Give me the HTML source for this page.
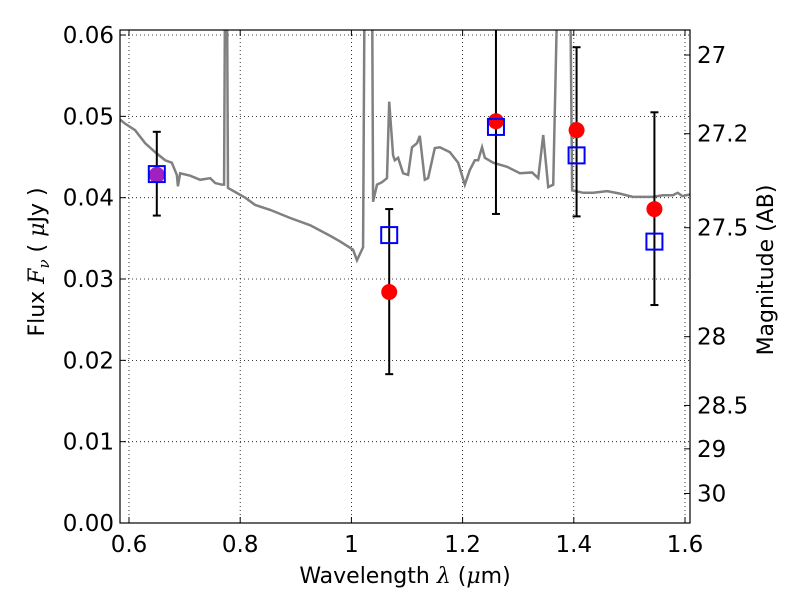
<!DOCTYPE html>
<html><head><meta charset="utf-8"><style>
body{margin:0;background:#fff}
svg{display:block;font-family:"DejaVu Sans","Liberation Sans",sans-serif}
</style></head><body>
<svg id="c" width="800" height="600"></svg>
<script>
const xTicks=[0.6,0.8,1.0,1.2,1.4,1.6];
const xTickLabels=["0.6","0.8","1","1.2","1.4","1.6"];
const yTicks=[0,0.01,0.02,0.03,0.04,0.05,0.06];
const yTickLabels=["0.00","0.01","0.02","0.03","0.04","0.05","0.06"];
const magTicks=[27,27.2,27.5,28,28.5,29,30];
const magTickLabels=["27","27.2","27.5","28","28.5","29","30"];
const specWave=[0.584,0.593,0.611,0.629,0.647,0.665,0.677,0.686,0.688,0.692,0.710,0.728,0.746,0.755,0.767,0.771,0.773,0.776,0.778,0.791,0.809,0.827,0.854,0.890,0.926,0.962,0.980,1.003,1.010,1.021,1.024,1.037,1.039,1.046,1.055,1.064,1.068,1.075,1.078,1.084,1.093,1.102,1.109,1.118,1.123,1.132,1.138,1.150,1.159,1.177,1.192,1.204,1.213,1.222,1.228,1.235,1.240,1.255,1.280,1.303,1.325,1.336,1.345,1.354,1.363,1.372,1.393,1.397,1.417,1.435,1.460,1.483,1.506,1.542,1.560,1.578,1.587,1.595,1.609];
const specFlux=[.0496,.0491,.0483,.0467,.0456,.0446,.0443,.0428,.0414,.0430,.0427,.0422,.0424,.0418,.0416,.0416,.07,.07,.0412,.0407,.0400,.0391,.0385,.0375,.0366,.0353,.0346,.0336,.0323,.0339,.07,.07,.0395,.0416,.0419,.0424,.0518,.0452,.0446,.0449,.0430,.0428,.0462,.0467,.0476,.0422,.0424,.0461,.0462,.0456,.0443,.0416,.0434,.0446,.0446,.0462,.0449,.0443,.0438,.0430,.0431,.0424,.0477,.0413,.0416,.07,.07,.0409,.0406,.0406,.0408,.0405,.0401,.0401,.0403,.0403,.0406,.0402,.0404];
const obsWave=[0.65,1.068,1.26,1.405,1.545];
const obsFlux=[0.0428,0.0284,0.0494,0.0483,0.0386];
const errLow=[0.0378,0.0183,0.0380,0.0377,0.0268];
const errHigh=[0.0481,0.0386,0.0610,0.0585,0.0505];
const modelFlux=[0.0429,0.0354,0.0487,0.0452,0.0346];

const L=120,R=690,T=30,B=523;
const X=v=>129+(v-0.6)*556;
const Y=v=>B-v*8133;
const M=m=>Y(Math.pow(10,(23.9-m)/2.5));
const svg=document.getElementById('c');
const NS='http://www.w3.org/2000/svg';
function el(t,a,p){const e=document.createElementNS(NS,t);for(const k in a)e.setAttribute(k,a[k]);(p||svg).appendChild(e);return e;}
const defs=el('defs',{});const cp=el('clipPath',{id:'clip'},defs);el('rect',{x:L,y:T,width:R-L,height:B-T},cp);
const g=el('g',{'clip-path':'url(#clip)'});


xTicks.forEach((v,i)=>{
 const l=el('line',{x1:X(v),x2:X(v),y1:T,y2:B,stroke:'#000','stroke-dasharray':'1,3','stroke-width':0.8},g);
 
 
 el('line',{x1:X(v),x2:X(v),y1:B,y2:B-6,stroke:'#000'});
 el('line',{x1:X(v),x2:X(v),y1:T,y2:T+6,stroke:'#000'});
 const t=el('text',{x:X(v),y:B+29,'text-anchor':'middle','font-size':23});t.textContent=xTickLabels[i];
 
 
});
yTicks.forEach((v,i)=>{
 const l=el('line',{x1:L,x2:R,y1:Y(v),y2:Y(v),stroke:'#000','stroke-dasharray':'1,3','stroke-width':0.8},g);
 
 
 el('line',{x1:L,x2:L+6,y1:Y(v),y2:Y(v),stroke:'#000'});
 const t=el('text',{x:L-6,y:Y(v)+8,'text-anchor':'end','font-size':23});t.textContent=yTickLabels[i];
 
 
});
magTicks.forEach((m,i)=>{
 el('line',{x1:R-6,x2:R,y1:M(m),y2:M(m),stroke:'#000'});
 const t=el('text',{x:R+7,y:M(m)+8,'font-size':23});t.textContent=magTickLabels[i];
 
 
});
const sp=el('polyline',{points:specWave.map((w,i)=>X(w)+','+Y(specFlux[i])).join(' '),fill:'none',stroke:'#808080','stroke-width':2.5},g);


obsWave.forEach((w,i)=>{
 const x=X(w);
 const e=el('line',{x1:x,x2:x,y1:Y(errLow[i]),y2:Y(errHigh[i]),stroke:'#000','stroke-width':2},g);
 
 
 [errLow[i],errHigh[i]].forEach(v=>el('line',{x1:x-4,x2:x+4,y1:Y(v),y2:Y(v),stroke:'#000','stroke-width':2},g));
 const c=el('circle',{cx:x,cy:Y(obsFlux[i]),r:8,fill:i==0?'#a020c0':'#ff0000'},g);
 
 
 const s=el('rect',{x:x-8,y:Y(modelFlux[i])-8,width:16,height:16,fill:'none',stroke:'#0000ff','stroke-width':2},g);
 
 
});
const fr=el('rect',{x:L,y:T,width:R-L,height:B-T,fill:'none',stroke:'#000','stroke-width':1.2});


const xl=el('text',{x:405,y:583,'text-anchor':'middle','font-size':22});xl.innerHTML='Wavelength  <tspan font-style="italic" font-family="DejaVu Serif">λ</tspan> (<tspan font-style="italic" font-family="DejaVu Serif">μ</tspan>m)';


const yl=el('text',{x:0,y:0,'text-anchor':'middle','font-size':22,transform:'translate(44,262) rotate(-90)'});yl.innerHTML='Flux  <tspan font-style="italic" font-family="DejaVu Serif">F</tspan><tspan font-style="italic" font-family="DejaVu Serif" font-size="15" dy="5">ν</tspan><tspan dy="-5">  (  </tspan><tspan font-style="italic" font-family="DejaVu Serif">μ</tspan>Jy )';


const ml=el('text',{x:0,y:0,'text-anchor':'middle','font-size':22,transform:'translate(773,270) rotate(-90)'});ml.textContent='Magnitude (AB)';


</script>
</body></html>
